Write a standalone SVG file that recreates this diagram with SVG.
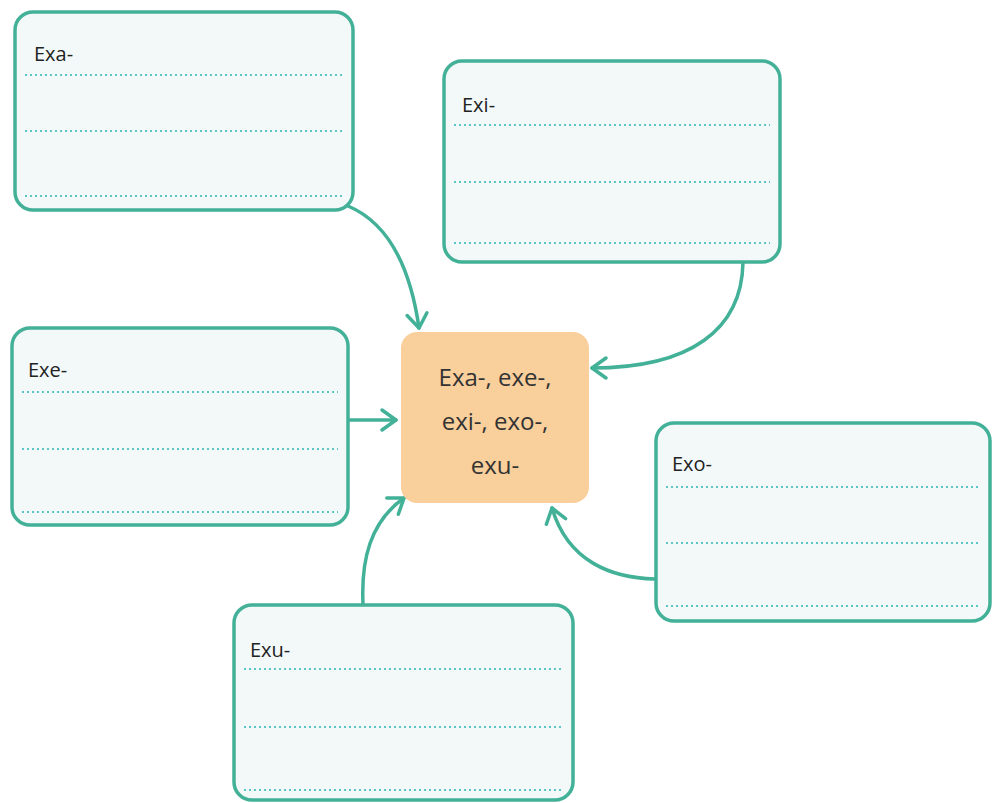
<svg xmlns="http://www.w3.org/2000/svg" width="993" height="803" viewBox="0 0 993 803">
<defs>
<style>
.box{fill:#f3f9f9;stroke:#43b198;stroke-width:3.5}
.dot{stroke:#5cc6c6;stroke-width:2;stroke-dasharray:2 3;fill:none}
.lbl{font-family:"Open Sans","Liberation Sans",sans-serif;font-size:20px;fill:#222}
.ctr{font-family:"Open Sans","Liberation Sans",sans-serif;font-size:24px;fill:#333;text-anchor:middle}
.con{fill:none;stroke:#43b198;stroke-width:3.5;stroke-linecap:round}
</style>
<marker id="arr" viewBox="0 0 12 12" refX="11" refY="6" markerWidth="12" markerHeight="12" orient="auto" markerUnits="userSpaceOnUse" overflow="visible">
<path d="M-3 -4 L11 6 L-3 16" fill="none" stroke="#43b198" stroke-width="3.5" stroke-linecap="round" stroke-linejoin="round"/>
</marker>
</defs>
<rect width="993" height="803" fill="#ffffff"/>
<g id="connectors">
<path class="con" d="M348 206 Q405 230 419 328" marker-end="url(#arr)"/>
<path class="con" d="M743 262 C742 330 690 368 592 368" marker-end="url(#arr)"/>
<path class="con" d="M350 420 L396 420" marker-end="url(#arr)"/>
<path class="con" d="M655 579 C612 578 568 562 552 508" marker-end="url(#arr)"/>
<path class="con" d="M363 604 C361 560 370 522 404 498" marker-end="url(#arr)"/>
</g>
<g id="node-exa">
<rect class="box" x="15" y="12" width="338" height="198" rx="18"/>
<text class="lbl" x="34" y="61">Exa-</text>
<line class="dot" x1="25" y1="75" x2="342" y2="75"/>
<line class="dot" x1="25" y1="131" x2="342" y2="131"/>
<line class="dot" x1="25" y1="196" x2="342" y2="196"/>
</g>
<g id="node-exi">
<rect class="box" x="444" y="61" width="336" height="201" rx="18"/>
<text class="lbl" x="462" y="112">Exi-</text>
<line class="dot" x1="454" y1="125" x2="770" y2="125"/>
<line class="dot" x1="454" y1="182" x2="770" y2="182"/>
<line class="dot" x1="454" y1="243" x2="770" y2="243"/>
</g>
<g id="node-exe">
<rect class="box" x="12" y="328" width="336" height="197" rx="18"/>
<text class="lbl" x="28" y="377">Exe-</text>
<line class="dot" x1="22" y1="392" x2="338" y2="392"/>
<line class="dot" x1="22" y1="449" x2="338" y2="449"/>
<line class="dot" x1="22" y1="512" x2="338" y2="512"/>
</g>
<g id="node-center">
<rect x="401" y="332" width="188" height="171" rx="16" fill="#f9cf9c"/>
<text class="ctr" x="495" y="386">Exa-, exe-,</text>
<text class="ctr" x="495" y="430">exi-, exo-,</text>
<text class="ctr" x="495" y="474">exu-</text>
</g>
<g id="node-exo">
<rect class="box" x="656" y="423" width="334" height="198" rx="18"/>
<text class="lbl" x="672" y="471">Exo-</text>
<line class="dot" x1="666" y1="487" x2="980" y2="487"/>
<line class="dot" x1="666" y1="543" x2="980" y2="543"/>
<line class="dot" x1="666" y1="606" x2="980" y2="606"/>
</g>
<g id="node-exu">
<rect class="box" x="234" y="605" width="339" height="195" rx="18"/>
<text class="lbl" x="250" y="657">Exu-</text>
<line class="dot" x1="244" y1="669" x2="563" y2="669"/>
<line class="dot" x1="244" y1="727" x2="563" y2="727"/>
<line class="dot" x1="244" y1="790" x2="563" y2="790"/>
</g>
</svg>
